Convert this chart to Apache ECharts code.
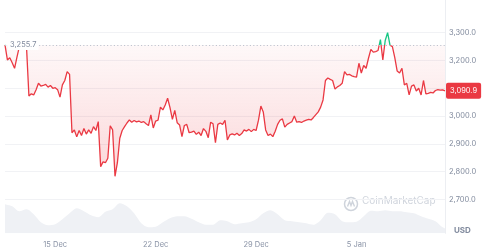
<!DOCTYPE html>
<html><head><meta charset="utf-8">
<script src="https://cdn.jsdelivr.net/npm/echarts@6/dist/echarts.min.js"></script>
<style>html,body{margin:0;padding:0;background:#fff}#c{width:500px;height:252px}</style>
</head><body><div id="c"></div>
<script>
// ---- data ----
const startTime = Date.UTC(2024, 11, 11, 12);
const priceStepHours = 4;
const prices = [
3256,3202,3210,3192,3172,3212,3250,3246,3252,3248,
3072,3080,3076,3095,3118,3108,3110,3114,3104,3110,
3100,3102,3095,3068,3112,3128,3160,3150,2940,2950,
2925,2948,2930,2955,2935,2950,2938,2962,2948,2980,
2818,2835,2832,2848,2965,2950,2783,2832,2920,2948,
2962,2975,2986,2978,2984,2979,2982,2977,2980,2972,
2966,3004,2957,2982,2985,3032,3022,3040,3064,3030,
2988,3020,2976,2968,2926,2966,2970,2940,2942,2946,
2934,2942,2930,2955,2945,2922,2978,2972,2904,2970,
2975,2970,2985,2914,2932,2936,2932,2938,2930,2937,
2950,2946,2952,2944,2952,2948,2985,3036,3015,2950,
2930,2935,2926,2945,2970,2985,2990,2960,2970,2975,
2980,3000,2978,2980,2977,2982,2985,2988,2986,2995,
3005,3015,3032,3058,3128,3137,3132,3128,3097,3105,
3110,3118,3160,3148,3150,3145,3142,3140,3190,3155,
3182,3172,3208,3240,3230,3232,3236,3275,3202,3272,
3300,3255,3250,3210,3162,3155,3172,3112,3118,3076,
3108,3112,3090,3100,3076,3128,3080,3082,3085,3083,
3092,3095,3093,3094,3090.9
];
const volumeStepHours = 12;
const volumes = [
29,27,22,24,19,11,8,9,14,20,25,22,18,16,21.5,24,30,27,20,10,
6,6.5,11,15,17,17,14.5,11,8.5,8.5,13,12,9,10,11,14,20,23,19,13,
12,11,10,8.5,13,20.5,19,12,11,11.5,17,22.5,22,23,22,22,21,20,17,14.5,
12,6,3
];
const openPrice = 3255.7;
const lastPrice = 3090.9;
const yTickValues = [2700, 2800, 2900, 3000, 3100, 3200, 3300];
const xTickDates = [Date.UTC(2024,11,15), Date.UTC(2024,11,22), Date.UTC(2024,11,29), Date.UTC(2025,0,5)];
const xTickLabels = ['15 Dec', '22 Dec', '29 Dec', '5 Jan'];

// ---- build ----
const H = 3600 * 1000;
const priceData = prices.map((p, i) => [startTime + i * priceStepHours * H, p]);
const volData = volumes.map((v, i) => [startTime + i * volumeStepHours * H, v]);
const endTime = startTime + (prices.length - 1) * priceStepHours * H;
const fmt = v => Number(v).toLocaleString('en-US', {minimumFractionDigits: 1, maximumFractionDigits: 1});
const FONT = 'Inter';
const RED = '#ea3943', GREEN = '#16c784';

const chart = echarts.init(document.getElementById('c'), null, {renderer: 'canvas'});
chart.setOption({
  animation: false,
  textStyle: {fontFamily: FONT},
  grid: [
    {left: 5, right: 55, top: 32.7, height: 166.7},
    {left: 5, right: 55, top: 0, bottom: 18.7}
  ],
  xAxis: [
    {type: 'value', gridIndex: 0, min: startTime, max: endTime, show: false},
    {type: 'value', gridIndex: 1, min: startTime, max: endTime,
     axisLine: {show: false}, axisTick: {show: false}, splitLine: {show: false},
     axisLabel: {customValues: xTickDates, formatter: v => xTickLabels[xTickDates.indexOf(v)] || '',
       color: '#8a93a6', fontSize: 7.5, margin: 7, fontFamily: FONT}}
  ],
  yAxis: [
    {type: 'value', gridIndex: 0, position: 'right', min: yTickValues[0], max: yTickValues[yTickValues.length - 1], interval: 100,
     axisLine: {show: false}, axisTick: {show: false},
     splitLine: {lineStyle: {color: '#f1f2f5', width: 1}},
     axisLabel: {color: '#808a9d', fontSize: 7.5, margin: 4, fontFamily: FONT, formatter: v => fmt(v)}},
    {type: 'value', gridIndex: 1, position: 'right', min: 0, max: 233,
     axisLine: {show: true, lineStyle: {color: '#eceef2', width: 1}},
     axisTick: {show: false}, axisLabel: {show: false}, splitLine: {show: false}}
  ],
  series: [
    {type: 'line', xAxisIndex: 1, yAxisIndex: 1, data: volData, showSymbol: false, smooth: 0.3,
     lineStyle: {width: 0}, areaStyle: {color: '#eff1f5', opacity: 1}, z: 1, silent: true},
    {id: 'price', type: 'line', xAxisIndex: 0, yAxisIndex: 0, data: priceData, showSymbol: false, clip: false,
     lineStyle: {width: 1.3, color: RED}, itemStyle: {color: RED}, z: 3,
     areaStyle: {origin: openPrice, opacity: 1, color: new echarts.graphic.LinearGradient(0, 0, 0, 1, [
       {offset: 0, color: 'rgba(234,57,67,0.02)'}, {offset: 1, color: 'rgba(234,57,67,0.2)'}])},
     markLine: {symbol: 'none', silent: true, animation: false, data: [
       {yAxis: openPrice, lineStyle: {type: [1.2, 2.2], color: '#bfc5d0', width: 1},
        label: {show: true, position: 'insideStartTop', distance: [3, 0], verticalAlign: 'middle',
          formatter: () => fmt(openPrice), color: '#808a9d', fontSize: 7.5, fontFamily: FONT,
          backgroundColor: '#fff', padding: [1, 2]}},
       {yAxis: lastPrice, lineStyle: {color: 'rgba(0,0,0,0)', width: 0},
        label: {show: true, position: 'end', distance: 1, formatter: () => fmt(lastPrice),
          color: '#ffffff', fontSize: 7.5, fontFamily: FONT, backgroundColor: RED, padding: [4, 4], borderRadius: 2}}
     ]}}
  ],
  graphic: [
    {type: 'text', left: 454, top: 227, style: {text: 'USD', fill: '#808a9d', font: 'bold 8px Inter'}},
    {type: 'group', left: 342, top: 195, children: [
      {type: 'circle', shape: {cx: 7.5, cy: 7.5, r: 6.5}, style: {fill: 'none', stroke: '#cfd4dc', lineWidth: 1.5}},
      {type: 'polyline', shape: {points: [[4, 10], [6, 5], [7.5, 9], [9, 5], [11, 10]]}, style: {fill: 'none', stroke: '#cfd4dc', lineWidth: 1.4}}
    ]},
    {type: 'text', left: 362, top: 196, style: {text: 'CoinMarketCap', fill: '#d0d5dd', font: '10px Inter'}}
  ]
});
// green above the opening price, red below: split the line colour at the opening price's pixel row
const yOpen = chart.convertToPixel({yAxisIndex: 0}, openPrice);
const yTop = chart.convertToPixel({yAxisIndex: 0}, yTickValues[yTickValues.length - 1]) - 10;
const yBot = chart.convertToPixel({yAxisIndex: 0}, yTickValues[0]);
const cut = (yOpen - yTop) / (yBot - yTop);
chart.setOption({series: [{id: 'price', lineStyle: {color: new echarts.graphic.LinearGradient(0, yTop, 0, yBot, [
  {offset: 0, color: GREEN}, {offset: cut, color: GREEN}, {offset: cut, color: RED}, {offset: 1, color: RED}], true)}}]});
</script></body></html>
